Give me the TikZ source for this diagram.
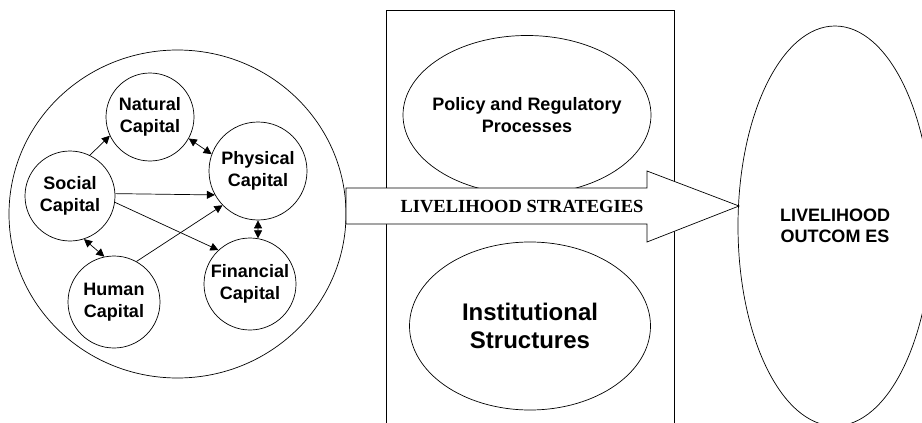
\documentclass[tikz,border=0pt]{standalone}
\usepackage{fontspec}
\newfontfamily\arialfont{Liberation Sans}
\newfontfamily\timesfont{Liberation Serif}
\usetikzlibrary{arrows.meta,shapes.geometric}

\begin{document}
\begin{tikzpicture}[x=1pt,y=-1pt,
            line width=0.7pt,
            capital/.style={circle,draw,inner sep=0pt,align=center,
                font=\arialfont\bfseries\fontsize{18}{21.5}\selectfont},
            lbl/.style={align=center,inner sep=0pt,
                font=\arialfont\bfseries\fontsize{18}{21.5}\selectfont},
            tip/.style={-{Triangle[length=8pt,width=8pt]}},
            both/.style={{Triangle[length=8pt,width=8pt]}-{Triangle[length=8pt,width=8pt]}}]
            \useasboundingbox (0,0) rectangle (922,423);
            \def\stratpath{(346,188) -- (647,188) -- (647,171) -- (739,206) -- (647,242) -- (647,224) -- (346,224) -- cycle}
            % transforming structures and processes
            \draw (386,423) -- (386,10) -- (674,10) -- (674,423);
            \node[lbl] (policy) at (527,115) {Policy and Regulatory\\Processes};
            \draw (policy.center) ellipse [x radius=124, y radius=79.5];
            \node[lbl,draw,ellipse,minimum width=241pt,minimum height=168pt,
                font=\arialfont\bfseries\fontsize{24}{28}\selectfont] (inst) at (530,326) {Institutional\\Structures};
            % asset pentagon
            \node[draw,ellipse,minimum width=337pt,minimum height=328pt,inner sep=0pt] (assets) at (177.5,214) {};
            \node[capital,minimum size=88pt] (natural) at (150,117) {Natural\\Capital};
            \node[capital,minimum size=98pt] (physical) at (258,171) {Physical\\Capital};
            \node[capital,minimum size=90pt] (social) at (70,196) {Social\\Capital};
            \node[capital,minimum size=92pt] (human) at (114,302) {Human\\Capital};
            \node[capital,minimum size=92pt] (financial) at (250,284) {Financial\\Capital};
            \draw[tip] (social.64) -- (natural.205);
            \draw[both] (natural.331) -- (physical.160);
            \draw[tip] (social.3) -- (physical.209);
            \draw[tip] (social.352) -- (financial.133);
            \draw[tip] (human.61) -- (physical.224);
            \draw[both] (social.288) -- (human.102);
            \draw[both] (physical.270) -- (financial.80);
            % strategies arrow
            \filldraw[fill=white] \stratpath;
            \node[font=\timesfont\bfseries\fontsize{18.5}{22}\selectfont] (strat) at (522,207) {LIVELIHOOD STRATEGIES};
            \node[lbl,draw,ellipse,minimum width=194pt,minimum height=400pt] (outcome) at (835,226) {LIVELIHOOD\\OUTCOM ES};
        \end{tikzpicture}
\end{document}
